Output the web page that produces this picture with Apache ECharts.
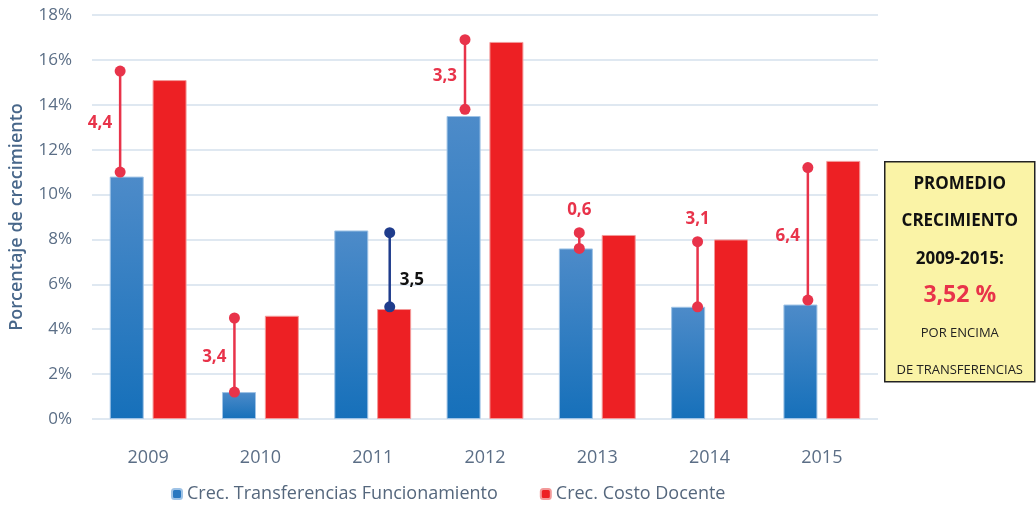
<!DOCTYPE html>
<html>
<head>
<meta charset="utf-8">
<script src="https://cdn.jsdelivr.net/npm/echarts@6/dist/echarts.min.js"></script>
<style>
  html, body { margin: 0; padding: 0; background: #fff; }
  #chart { width: 1036px; height: 512px; }
</style>
</head>
<body>
<div id="chart"></div>
<script>
// datos
const years = ['2009', '2010', '2011', '2012', '2013', '2014', '2015'];
const transferencias = [10.8, 1.2, 8.4, 13.5, 7.6, 5.0, 5.1];
const costoDocente = [15.1, 4.6, 4.9, 16.8, 8.2, 8.0, 11.5];
// brecha entre ambas series (linea con puntos)
const gapTop = [15.5, 4.5, 8.3, 16.9, 8.3, 7.9, 11.2];
const gapBottom = [11.0, 1.2, 5.0, 13.8, 7.6, 5.0, 5.3];
const gapLabels = ['4,4', '3,4', '3,5', '3,3', '0,6', '3,1', '6,4'];
const yTicks = [0, 2, 4, 6, 8, 10, 12, 14, 16, 18];

// estilo de las brechas: desplazamiento en px y posicion de la etiqueta
const gapShift = [-28, -26, 17, -20, -18, -12, -14];
const gapLabelSide = ['left', 'left', 'right', 'left', 'top', 'top', 'left'];
const gapDark = [false, false, true, false, false, false, false];

const RED = '#ed2024';
const GAP_RED = '#e8334a';
const GAP_BLUE = '#1f3c8c';
const TXT = '#5b6e86';
const FONT = '"Open Sans", "Noto Sans", sans-serif';

const chart = echarts.init(document.getElementById('chart'));

function renderGap(params, api) {
  const i = params.dataIndex;
  const top = api.coord([i, gapTop[i]]);
  const bot = api.coord([i, gapBottom[i]]);
  const x = top[0] + gapShift[i];
  const col = gapDark[i] ? GAP_BLUE : GAP_RED;
  let tx, ty, align;
  const side = gapLabelSide[i];
  if (side === 'left') {
    tx = x - 8; ty = (top[1] + bot[1]) / 2 + 2; align = 'right';
  } else if (side === 'right') {
    tx = x + 10; ty = (top[1] + bot[1]) / 2 + 10; align = 'left';
  } else {
    tx = x; ty = top[1] - 23; align = 'center';
  }
  return {
    type: 'group',
    children: [
      { type: 'line', shape: { x1: x, y1: top[1], x2: x, y2: bot[1] },
        style: { stroke: col, lineWidth: 2.5 } },
      { type: 'circle', shape: { cx: x, cy: top[1], r: 5.5 }, style: { fill: col } },
      { type: 'circle', shape: { cx: x, cy: bot[1], r: 5.5 }, style: { fill: col } },
      { type: 'text', x: tx, y: ty,
        style: { text: gapLabels[i], fill: gapDark[i] ? '#111' : GAP_RED,
          font: 'bold 17px ' + FONT, textAlign: align, textVerticalAlign: 'middle' } }
    ]
  };
}

const boxText = (y, text, font, color) => ({
  type: 'text', x: 75, y: y,
  style: { text: text, font: font, fill: color, textAlign: 'center', textVerticalAlign: 'middle' }
});

const option = {
  animation: false,
  grid: { left: 92, right: 158, top: 15, bottom: 93 },
  legend: {
    bottom: 4,
    left: 166,
    itemWidth: 10,
    itemHeight: 10,
    itemGap: 42,
    textStyle: { color: '#55677d', fontSize: 18, fontFamily: FONT },
    data: [
      { name: 'Crec. Transferencias Funcionamiento', itemStyle: { color: '#2a78c0' } },
      { name: 'Crec. Costo Docente', itemStyle: { color: RED } }
    ]
  },
  xAxis: {
    type: 'category',
    data: years,
    axisLine: { show: false },
    axisTick: { show: false },
    axisLabel: { color: TXT, fontSize: 18, margin: 30, fontFamily: FONT }
  },
  yAxis: {
    type: 'value',
    min: yTicks[0],
    max: yTicks[yTicks.length - 1],
    interval: 2,
    name: 'Porcentaje de crecimiento',
    nameLocation: 'middle',
    nameGap: 66,
    nameTextStyle: { color: '#48678a', fontSize: 18, fontWeight: 600, fontFamily: FONT },
    axisLine: { show: false },
    axisTick: { show: false },
    axisLabel: { formatter: '{value}%', color: TXT, fontSize: 17, margin: 20, fontFamily: FONT },
    splitLine: { lineStyle: { color: '#dfe8f1', width: 2 } }
  },
  series: [
    {
      name: 'Crec. Transferencias Funcionamiento',
      type: 'bar',
      data: transferencias,
      barWidth: 34,
      barGap: '26%',
      itemStyle: {
        color: new echarts.graphic.LinearGradient(0, 0, 0, 1, [
          { offset: 0, color: '#4d8bc9' },
          { offset: 1, color: '#1670ba' }
        ]),
        borderColor: '#9fc3e6',
        borderWidth: 1
      }
    },
    {
      name: 'Crec. Costo Docente',
      type: 'bar',
      data: costoDocente,
      barWidth: 34,
      itemStyle: { color: RED, borderColor: '#f39a9a', borderWidth: 1 }
    },
    {
      name: 'brecha',
      type: 'custom',
      data: gapTop.map((v, i) => [i, v, gapBottom[i]]),
      encode: { x: 0, y: [1, 2] },
      renderItem: renderGap,
      z: 5
    }
  ],
  graphic: [
    {
      type: 'group',
      left: 884,
      top: 161,
      children: [
        { type: 'rect', shape: { x: 0, y: 0, width: 150, height: 220 },
          style: { fill: '#faf3a6', stroke: '#222', lineWidth: 1.5 } },
        boxText(22, 'PROMEDIO', 'bold 17px ' + FONT, '#111'),
        boxText(59, 'CRECIMIENTO', 'bold 17px ' + FONT, '#111'),
        boxText(97, '2009-2015:', 'bold 17px ' + FONT, '#111'),
        boxText(134, '3,52 %', 'bold 23px ' + FONT, GAP_RED),
        boxText(172, 'POR ENCIMA', '13px ' + FONT, '#222'),
        boxText(209, 'DE TRANSFERENCIAS', '13px ' + FONT, '#222')
      ]
    }
  ]
};

chart.setOption(option);
</script>
</body>
</html>
